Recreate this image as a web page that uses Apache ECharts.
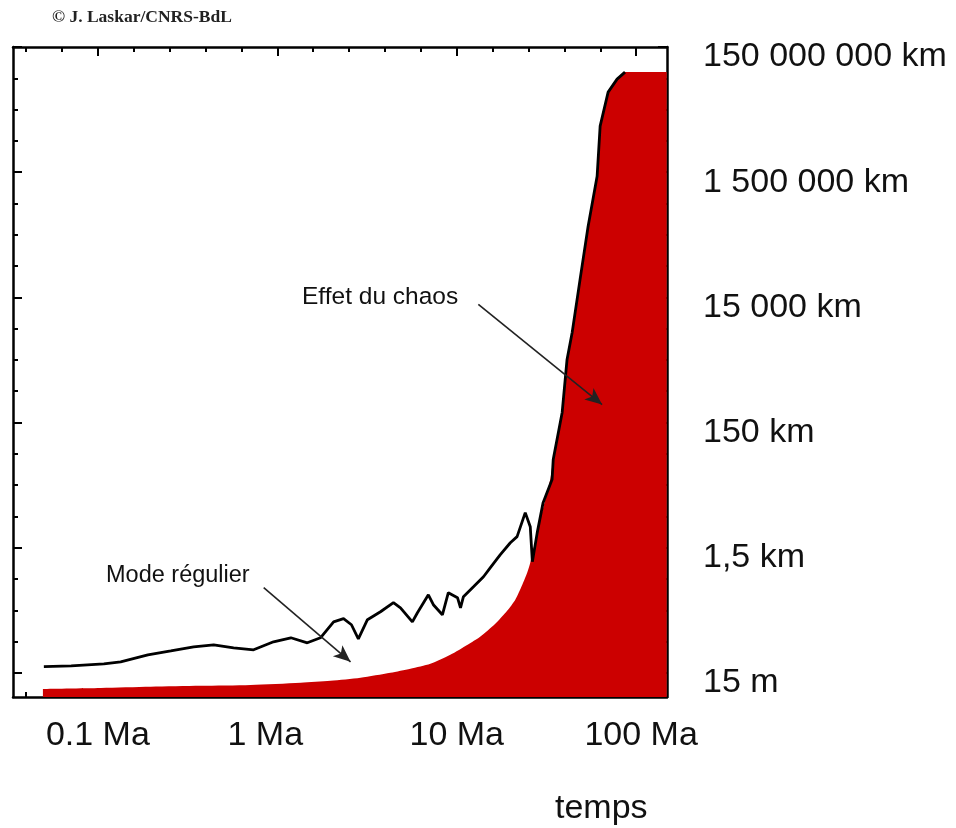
<!DOCTYPE html>
<html>
<head>
<meta charset="utf-8">
<script src="https://cdn.jsdelivr.net/npm/echarts@6/dist/echarts.min.js"></script>
<style>
html, body { margin: 0; padding: 0; background: #fff; }
#chaos { width: 956px; height: 828px; }
</style>
</head>
<body>
<div id="chaos"></div>
<script>
// ecart entre deux solutions voisines (m) en fonction du temps (Ma)
var timeMa = [0.050, 0.071, 0.108, 0.134, 0.190, 0.255, 0.342, 0.442, 0.571, 0.738,
    0.953, 1.19, 1.47, 1.74, 2.06, 2.34, 2.59, 2.83, 3.18, 3.76,
    4.44, 4.86, 5.66, 6.04, 6.95, 7.41, 8.32, 8.98, 10.1, 10.5,
    10.9, 12.4, 14.1, 15.4, 17.5, 19.9, 21.7, 24.1, 25.7, 26.4,
    28.1, 30.3, 34.0, 34.5, 38.7, 41.2, 44.0, 48.7, 54.0, 60.6,
    63.0, 69.8, 78.3, 86.7];
var ecartM = [18.9, 19.4, 20.9, 22.5, 29.1, 33.7, 39.1, 42.1, 37.7, 35.0,
    47.0, 54.5, 45.3, 54.5, 98, 110, 88, 52.5, 106, 142,
    198, 164, 98, 137, 265, 184, 127, 286, 238, 164,
    247, 356, 515, 718, 1160, 1800, 2250, 5450, 3250, 895,
    2610, 7870, 18400, 38400, 217000, 1.53e6, 4.13e6, 2.91e7, 2.05e8, 1.29e9,
    8.17e9, 2.86e10, 4.61e10, 5.97e10];

// croissance exponentielle (zone rouge)
var redTimeMa = [0.0494, 0.104, 0.197, 0.374, 0.710, 1.35, 1.98, 2.91, 4.27, 5.52,
    7.13, 9.21, 11.5, 13.5, 16.4, 19.1, 21.2, 23.2, 24.7, 25.7,
    29.2, 33.2, 34.5, 38.7, 41.2, 44.0, 48.7, 54.0, 60.6, 63.0,
    69.8, 78.3, 86.7, 148];
var redEcartM = [8.3, 8.6, 9.0, 9.3, 9.6, 10.4, 11.2, 12.5, 15.0, 17.4,
    20.9, 29.1, 42.1, 56.5, 91.2, 147, 221, 384, 597, 863,
    4210, 18400, 38400, 217000, 1.53e6, 4.13e6, 2.91e7, 2.05e8, 1.29e9, 8.17e9,
    2.86e10, 4.61e10, 5.97e10, 5.97e10];

var xTickMa = [0.1, 1, 10, 100];
var xTickLabels = ['0.1 Ma', '1 Ma', '10 Ma', '100 Ma'];
var yTickM = [15, 1500, 1.5e5, 1.5e7, 1.5e9, 1.5e11];
var yTickLabels = ['15 m', '1,5 km', '150 km', '15 000 km', '1 500 000 km', '150 000 000 km'];

// fleches (debut, pointe) en [Ma, m]
var modeArrow = [[0.84, 344], [2.56, 22.5]];
var chaosArrow = [[13.2, 1.16e7], [64.6, 2.91e5]];

var lg = Math.log10;
function pairs(xs, ys) {
    return xs.map(function (x, i) { return [lg(x), lg(ys[i])]; });
}

var xMin = -1.473, xMax = 2.172;
var yMin = 0.79, yMax = 11.177;

var xMajor = xTickMa.map(lg);
var xMinor = [];
for (var k = -8; k <= 11; k++) {
    if (k % 5 !== 0) xMinor.push(k / 5);
}
var yMajor = yTickM.map(lg);
var yMinor = [];
yMajor.forEach(function (m) {
    [0.5, 1, 1.5].forEach(function (d) {
        if (m + d < yMax) yMinor.push(m + d);
    });
});

function idx(list, v) {
    for (var i = 0; i < list.length; i++) {
        if (Math.abs(list[i] - v) < 1e-6) return i;
    }
    return -1;
}

var black = '#000';
var font = '"Liberation Sans", Arial, sans-serif';

function axis(pos, min, max, ticks, len, extra) {
    var a = {
        type: 'value',
        position: pos,
        min: min,
        max: max,
        splitLine: { show: false },
        axisLine: { show: len > 6, onZero: false, lineStyle: { color: black, width: 2.5 } },
        axisTick: { show: true, inside: true, length: len, customValues: ticks, lineStyle: { color: black, width: 2 } },
        axisLabel: { show: false }
    };
    if (extra) a.axisLabel = extra;
    return a;
}

var big = { fontFamily: font, fontSize: 34, color: '#111' };

var xLabel = {
    show: true,
    customValues: xMajor,
    margin: 22,
    fontFamily: font,
    fontSize: 34,
    color: '#111',
    formatter: function (v) {
        var i = idx(xMajor, v);
        if (i === 1) return '{l|' + xTickLabels[i] + '}';
        if (i === 3) return '{r|' + xTickLabels[i] + '}';
        return '{n|' + xTickLabels[i] + '}';
    },
    rich: {
        n: big,
        l: Object.assign({ padding: [0, 24, 0, 0] }, big),
        r: Object.assign({ padding: [0, 0, 0, 10] }, big)
    }
};

var yLabel = {
    show: true,
    customValues: yMajor,
    margin: 36,
    fontFamily: font,
    fontSize: 34,
    color: '#111',
    formatter: function (v) {
        return '{a|' + yTickLabels[idx(yMajor, v)] + '}';
    },
    rich: {
        a: Object.assign({ padding: [20, 0, 0, 0] }, big)
    }
};

var option = {
    animation: false,
    backgroundColor: '#fff',
    grid: { left: 13, right: 289, top: 47, bottom: 131, outerBoundsMode: 'none' },
    xAxis: [
        axis('bottom', xMin, xMax, xMajor, 9, xLabel),
        axis('bottom', xMin, xMax, xMinor, 5),
        axis('top', xMin, xMax, xMajor, 9),
        axis('top', xMin, xMax, xMinor, 5)
    ],
    yAxis: [
        axis('left', yMin, yMax, yMajor, 9),
        axis('left', yMin, yMax, yMinor, 5),
        axis('right', yMin, yMax, yMajor, 9, yLabel),
        axis('right', yMin, yMax, yMinor, 5)
    ],
    graphic: [
        { type: 'text', left: 52, top: 8, style: { text: '\u00a9 J. Laskar/CNRS-BdL', fontFamily: '"Liberation Serif", serif', fontWeight: 'bold', fontSize: 17.5, fill: '#222' } },
        { type: 'text', left: 106, top: 564, style: { text: 'Mode r\u00e9gulier', fontFamily: font, fontSize: 23.5, fill: '#111' } },
        { type: 'text', left: 302, top: 285, style: { text: 'Effet du chaos', fontFamily: font, fontSize: 24.5, fill: '#111' } },
        { type: 'text', left: 555, top: 792, style: { text: 'temps', fontFamily: font, fontSize: 34, fill: '#111' } }
    ],
    series: [
        {
            name: 'exponentielle',
            type: 'line',
            xAxisIndex: 0,
            yAxisIndex: 0,
            data: pairs(redTimeMa, redEcartM),
            smooth: 0.25,
            showSymbol: false,
            symbol: 'none',
            lineStyle: { width: 0 },
            areaStyle: { color: '#cc0000', opacity: 1, origin: 'start' },
            silent: true
        },
        {
            name: 'ecart',
            type: 'line',
            xAxisIndex: 0,
            yAxisIndex: 0,
            data: pairs(timeMa, ecartM),
            symbol: 'none',
            lineStyle: { color: black, width: 2.8 },
            silent: true,
            markLine: {
                silent: true,
                symbol: ['none', 'arrow'],
                symbolSize: [11, 17],
                label: { show: false },
                lineStyle: { color: '#222', width: 1.6, type: 'solid' },
                itemStyle: { color: '#111' },
                emphasis: { disabled: true },
                data: [
                    [{ coord: [lg(modeArrow[0][0]), lg(modeArrow[0][1])] }, { coord: [lg(modeArrow[1][0]), lg(modeArrow[1][1])] }],
                    [{ coord: [lg(chaosArrow[0][0]), lg(chaosArrow[0][1])] }, { coord: [lg(chaosArrow[1][0]), lg(chaosArrow[1][1])] }]
                ]
            }
        }
    ]
};

var chart = echarts.init(document.getElementById('chaos'));
chart.setOption(option);
</script>
</body>
</html>
